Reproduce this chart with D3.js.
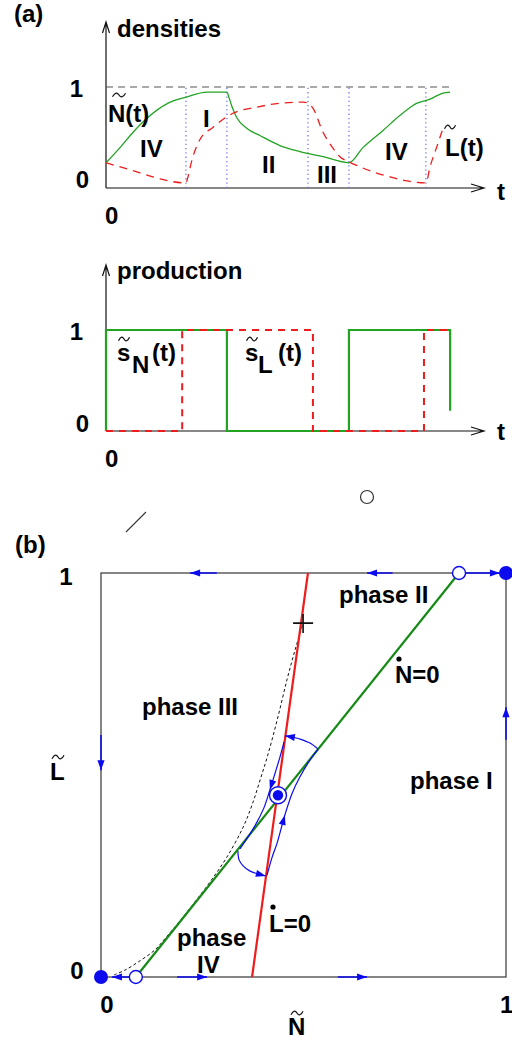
<!DOCTYPE html>
<html>
<head>
<meta charset="utf-8">
<script src="https://cdn.jsdelivr.net/npm/d3@7"></script>
<style>
  html, body { margin: 0; padding: 0; background: #fff; }
  svg { display: block; }
  text { font-family: "Liberation Sans", Arial, Helvetica, sans-serif; font-weight: bold; fill: #000; }
</style>
</head>
<body>
<svg id="fig" width="512" height="1040"></svg>
<script>
// ---------- (a) densities over time ----------
const nTime  = [0, 0.37, 0.71, 1.08, 1.64, 2.11, 2.67, 3.19, 3.25, 3.33, 3.46, 3.72, 4.06, 4.59, 5.12, 5.73, 6.41, 6.78, 7.31, 7.76, 8.07, 8.21, 8.55, 8.89, 9.08];
const nValue = [0.25, 0.40, 0.55, 0.69, 0.84, 0.90, 0.95, 0.95, 0.89, 0.80, 0.69, 0.59, 0.52, 0.42, 0.36, 0.31, 0.25, 0.40, 0.57, 0.72, 0.81, 0.84, 0.88, 0.94, 0.95];
const lTime  = [0, 0.90, 1.43, 2.11, 2.14, 2.27, 2.48, 2.82, 3.35, 3.98, 4.59, 5.20, 5.33, 5.46, 5.73, 5.96, 6.17, 6.41, 6.70, 7.05, 7.49, 7.94, 8.44, 8.55, 8.73, 8.89];
const lValue = [0.25, 0.15, 0.09, 0.05, 0.08, 0.28, 0.48, 0.60, 0.74, 0.80, 0.84, 0.85, 0.84, 0.79, 0.55, 0.41, 0.31, 0.26, 0.21, 0.16, 0.11, 0.07, 0.05, 0.21, 0.41, 0.59];
const phaseBounds = [2.11, 3.19, 5.33, 6.41, 8.44];
const phaseNames  = ["IV", "I", "II", "III", "IV"];

// ---------- (a) production switches ----------
const sNTime  = [0, 0, 3.19, 6.41, 9.08];
const sNLevel = [0, 1, 0, 1, 0.2];
const sLTime  = [0, 2.01, 5.46, 8.39, 9.08];
const sLLevel = [0, 1, 0, 1, 1];

const axisTicks = ["0", "1"];

// ---------- (b) phase plane ----------
const nullclineNdot = [[0.086, 0], [0.884, 1]];   // N-dot = 0
const nullclineLdot = [[0.373, 0], [0.511, 1]];   // L-dot = 0
const separatrixN = [0.032, 0.059, 0.096, 0.133, 0.163, 0.195, 0.232, 0.269, 0.311, 0.351, 0.373, 0.393, 0.412, 0.435, 0.459, 0.479, 0.499];
const separatrixL = [0.005, 0.017, 0.040, 0.067, 0.101, 0.139, 0.186, 0.235, 0.297, 0.371, 0.426, 0.488, 0.550, 0.636, 0.735, 0.809, 0.876];
const saddleMark = [0.499, 0.876];

const orbitTop    = [[0.536, 0.564], [0.516, 0.579], [0.491, 0.589], [0.472, 0.594], [0.454, 0.597]];
const orbitLeft   = [[0.452, 0.582], [0.442, 0.545], [0.430, 0.505], [0.417, 0.463], [0.402, 0.418], [0.380, 0.374], [0.343, 0.317]];
const orbitBottom = [[0.338, 0.312], [0.341, 0.290], [0.351, 0.275], [0.368, 0.262], [0.388, 0.255], [0.407, 0.250]];
const orbitRight  = [[0.410, 0.252], [0.422, 0.295], [0.435, 0.332], [0.454, 0.401], [0.472, 0.455], [0.491, 0.495], [0.516, 0.537], [0.536, 0.564]];

const stableCorners = [[0, 0], [1, 1]];
const unstablePoints = [[0.086, 0], [0.884, 1]];
const centreFixed = [0.437, 0.45];

const edgeFlows = [
  [[0.286, 1], [0.220, 1]],
  [[0.720, 1], [0.657, 1]],
  [[0.900, 1], [0.985, 1]],
  [[1, 0.587], [1, 0.668]],
  [[0, 0.599], [0, 0.512]],
  [[0.188, 0], [0.262, 0]],
  [[0.585, 0], [0.657, 0]],
  [[0.070, 0], [0.027, 0]]
];

// ---------- drawing ----------
const svg = d3.select("#fig");
const GREEN_A = "#22a322", GREEN_B = "#168a16", RED = "#ee1c1c", BLUE = "#0b0bee";
const FS = 24;

function label(x, y, str, opts = {}) {
  return svg.append("text")
    .attr("x", x).attr("y", y)
    .attr("font-size", opts.size || FS)
    .attr("text-anchor", opts.anchor || "start")
    .text(str);
}
// thin wavy accent drawn above a symbol
function tilde(cx, cy, w = 13) {
  const h = w / 2;
  svg.append("path")
    .attr("d", `M${cx - h},${cy + 1.8}C${cx - h * 0.6},${cy - 3.2} ${cx - h * 0.25},${cy - 2.6} ${cx},${cy}S${cx + h * 0.6},${cy + 3.2} ${cx + h},${cy - 1.8}`)
    .attr("fill", "none").attr("stroke", "#111").attr("stroke-width", 1.2);
}
function arrowHead(g, x, y, ang, color, len = 10, half = 3.6) {
  const ca = Math.cos(ang), sa = Math.sin(ang);
  const bx = x - len * ca, by = y - len * sa;
  g.append("path")
    .attr("d", `M${x},${y}L${bx - half * sa},${by + half * ca}L${bx + half * sa},${by - half * ca}Z`)
    .attr("fill", color);
}
function openAxis(x0, y0, x1, yTop) {
  const g = svg.append("g").attr("stroke", "#111").attr("stroke-width", 1.2).attr("fill", "none");
  g.append("path").attr("d", `M${x0},${y0}V${yTop}M${x0 - 3.5},${yTop + 11}L${x0},${yTop}L${x0 + 3.5},${yTop + 11}`);
  g.append("path").attr("d", `M${x0},${y0}H${x1}M${x1 - 13},${y0 - 4}L${x1},${y0}L${x1 - 13},${y0 + 4}`);
}

// scales for (a)
const tX = d3.scaleLinear().domain([0, 10]).range([106, 485]);
const yDen = d3.scaleLinear().domain([0, 1]).range([188, 87]);
const yProd = d3.scaleLinear().domain([0, 1]).range([431, 330]);

// --- densities
label(14, 22, "(a)");
openAxis(tX(0), yDen(0), 484, 22);
label(117, 37, "densities");
label(83, 97, axisTicks[1], { anchor: "end" });
label(89, 188, axisTicks[0], { anchor: "end" });
label(105, 224, axisTicks[0]);
label(497, 200, "t");

svg.append("line")
  .attr("x1", tX(0)).attr("x2", tX(9.1)).attr("y1", yDen(1)).attr("y2", yDen(1))
  .attr("stroke", "#555").attr("stroke-width", 1.2).attr("stroke-dasharray", "7,5");

svg.append("g").selectAll("line").data(phaseBounds).join("line")
  .attr("x1", d => tX(d)).attr("x2", d => tX(d))
  .attr("y1", yDen(0)).attr("y2", yDen(1))
  .attr("stroke", "#6a6af5").attr("stroke-width", 1.2).attr("stroke-dasharray", "1.3,3");

const denLine = d3.line().x(d => tX(d[0])).y(d => yDen(d[1])).curve(d3.curveMonotoneX);
svg.append("path").attr("d", denLine(d3.zip(nTime, nValue)))
  .attr("fill", "none").attr("stroke", GREEN_A).attr("stroke-width", 1.3);
svg.append("path").attr("d", denLine(d3.zip(lTime, lValue)))
  .attr("fill", "none").attr("stroke", RED).attr("stroke-width", 1.3).attr("stroke-dasharray", "8,6");

// phase labels inside the time series
const phaseLabelPos = [[140, 157], [203, 127], [262, 173], [317, 183], [385, 160]];
phaseNames.forEach((p, i) => label(phaseLabelPos[i][0], phaseLabelPos[i][1], p));
label(108, 122, "N(t)"); tilde(119, 95);
label(445, 156, "L(t)"); tilde(450, 127, 11);

// --- production
openAxis(tX(0), yProd(0), 484, 265);
label(117, 279, "production");
label(83, 340, axisTicks[1], { anchor: "end" });
label(89, 432, axisTicks[0], { anchor: "end" });
label(105, 467, axisTicks[0]);
label(497, 440, "t");

const stepLine = d3.line().x(d => tX(d[0])).y(d => yProd(d[1])).curve(d3.curveStepAfter);
svg.append("path").attr("d", stepLine(d3.zip(sNTime, sNLevel)))
  .attr("fill", "none").attr("stroke", GREEN_A).attr("stroke-width", 2.2);
svg.append("path").attr("d", stepLine(d3.zip(sLTime, sLLevel)))
  .attr("fill", "none").attr("stroke", RED).attr("stroke-width", 2).attr("stroke-dasharray", "7,6");

label(117, 361, "s"); tilde(124, 339, 11); label(132, 373, "N"); label(152, 361, "(t)");
label(245, 361, "s"); tilde(252, 339, 11); label(258, 373, "L"); label(278, 361, "(t)");

// leftover marks between the panels
svg.append("line").attr("x1", 126).attr("y1", 532).attr("x2", 146).attr("y2", 512)
  .attr("stroke", "#333").attr("stroke-width", 1.1);
svg.append("circle").attr("cx", 367).attr("cy", 497).attr("r", 6.5)
  .attr("fill", "none").attr("stroke", "#333").attr("stroke-width", 1.2);

// ---------- (b) ----------
const xN = d3.scaleLinear().domain([0, 1]).range([101, 506]);
const yL = d3.scaleLinear().domain([0, 1]).range([977, 573]);
const ppLine = d3.line().x(d => xN(d[0])).y(d => yL(d[1]));
const ppCurve = d3.line().x(d => xN(d[0])).y(d => yL(d[1])).curve(d3.curveCatmullRom);

label(15, 553, "(b)");
svg.append("rect")
  .attr("x", xN(0)).attr("y", yL(1))
  .attr("width", xN(1) - xN(0)).attr("height", yL(0) - yL(1))
  .attr("fill", "none").attr("stroke", "#444").attr("stroke-width", 1.3);

label(66, 585, axisTicks[1], { anchor: "middle" });
label(77, 979, axisTicks[0], { anchor: "middle" });
label(107, 1013, axisTicks[0], { anchor: "middle" });
label(500, 1013, axisTicks[1]);
label(50, 780, "L"); tilde(58, 757, 12);
label(288, 1035, "N"); tilde(297, 1013, 12);

// separatrix
svg.append("path").attr("d", ppCurve(d3.zip(separatrixN, separatrixL)))
  .attr("fill", "none").attr("stroke", "#111").attr("stroke-width", 1)
  .attr("stroke-dasharray", "3,2.5");

// nullclines
svg.append("path").attr("d", ppLine(nullclineNdot))
  .attr("fill", "none").attr("stroke", GREEN_B).attr("stroke-width", 2.2);
svg.append("path").attr("d", ppLine(nullclineLdot))
  .attr("fill", "none").attr("stroke", RED).attr("stroke-width", 2.2);

// orbit around the interior fixed point
const orbitG = svg.append("g");
[orbitTop, orbitLeft, orbitBottom, orbitRight].forEach(seg => {
  orbitG.append("path").attr("d", ppCurve(seg))
    .attr("fill", "none").attr("stroke", BLUE).attr("stroke-width", 1.2);
});
function headAt(seg, i) {
  const [x0, y0] = [xN(seg[i - 1][0]), yL(seg[i - 1][1])];
  const [x1, y1] = [xN(seg[i][0]), yL(seg[i][1])];
  arrowHead(orbitG, x1, y1, Math.atan2(y1 - y0, x1 - x0), BLUE, 10, 3.5);
}
headAt(orbitTop, orbitTop.length - 1);
headAt(orbitLeft, 3);
headAt(orbitBottom, orbitBottom.length - 1);
headAt(orbitRight, 3);

// flows along the border
const edgeG = svg.append("g");
edgeFlows.forEach(([a, b]) => {
  const x0 = xN(a[0]), y0 = yL(a[1]), x1 = xN(b[0]), y1 = yL(b[1]);
  edgeG.append("line").attr("x1", x0).attr("y1", y0).attr("x2", x1).attr("y2", y1)
    .attr("stroke", BLUE).attr("stroke-width", 1.5);
  arrowHead(edgeG, x1, y1, Math.atan2(y1 - y0, x1 - x0), BLUE, 10, 3.6);
});

// fixed points
svg.append("g").selectAll("circle").data(stableCorners).join("circle")
  .attr("cx", d => xN(d[0])).attr("cy", d => yL(d[1])).attr("r", 7)
  .attr("fill", BLUE);
svg.append("g").selectAll("circle").data(unstablePoints).join("circle")
  .attr("cx", d => xN(d[0])).attr("cy", d => yL(d[1])).attr("r", 6.5)
  .attr("fill", "#fff").attr("stroke", BLUE).attr("stroke-width", 1.4);
svg.append("circle").attr("cx", xN(centreFixed[0])).attr("cy", yL(centreFixed[1])).attr("r", 8.5)
  .attr("fill", "#fff").attr("stroke", BLUE).attr("stroke-width", 1.4);
svg.append("circle").attr("cx", xN(centreFixed[0])).attr("cy", yL(centreFixed[1])).attr("r", 5.2)
  .attr("fill", BLUE);

// saddle cross
const sx = xN(saddleMark[0]), sy = yL(saddleMark[1]);
svg.append("path").attr("d", `M${sx - 10},${sy}H${sx + 10}M${sx},${sy - 9}V${sy + 10}`)
  .attr("stroke", "#111").attr("stroke-width", 1.6);

// region and nullcline labels
label(339, 603, "phase II");
label(142, 715, "phase III");
label(410, 789, "phase I");
label(177, 946, "phase");
label(197, 973, "IV");
label(395, 683, "N=0");
svg.append("circle").attr("cx", 399).attr("cy", 659).attr("r", 2.6).attr("fill", "#000");
label(269, 932, "L=0");
svg.append("circle").attr("cx", 273).attr("cy", 907).attr("r", 2.6).attr("fill", "#000");
</script>
</body>
</html>
